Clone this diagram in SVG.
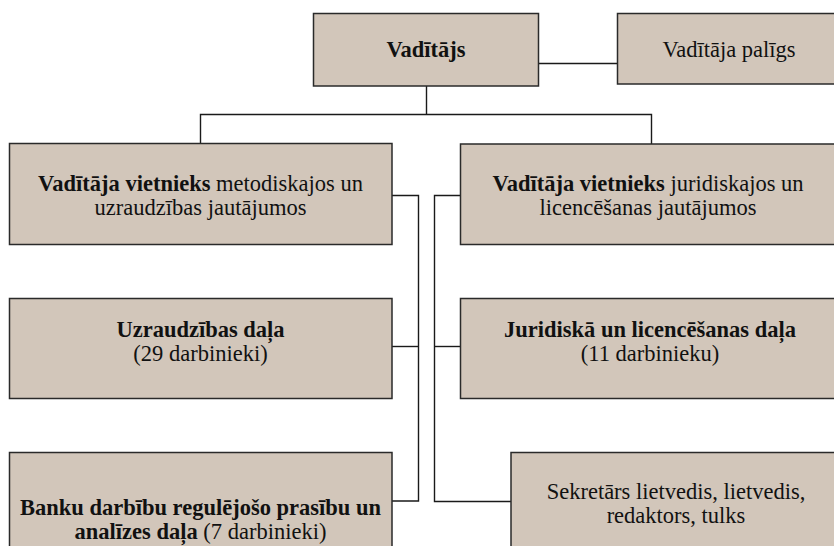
<svg xmlns="http://www.w3.org/2000/svg" width="834" height="546" viewBox="0 0 834 546">
<style>
.box{fill:#d2c6ba;stroke:#2a2a2a;stroke-width:1.5}
.t{font-family:"Liberation Serif","Times New Roman",serif;font-size:22.5px;fill:#111;text-anchor:middle}
.b{font-weight:bold}
.c{fill:none;stroke:#1a1a1a;stroke-width:1.4}
</style>
<rect width="834" height="546" fill="#fff"/>
<g id="connectors">
<path class="c" d="M538.5,63.5H617.5"/>
<path class="c" d="M426.5,86V114.5"/>
<path class="c" d="M200.5,143.5V114.5H651.5V144"/>
<path class="c" d="M392,195.5H418.5V501H392"/>
<path class="c" d="M392,346.5H418.5"/>
<path class="c" d="M460,195.5H434.5V501.5H511"/>
<path class="c" d="M434.5,346.5H460"/>
</g>
<g id="vaditajs">
<rect class="box" x="313.5" y="13.5" width="225" height="72.5"/>
<text class="t b" x="426" y="57">Vadītājs</text>
</g>
<g id="paligs">
<rect class="box" x="617.5" y="13.5" width="225" height="70.5"/>
<text class="t" x="729" y="57">Vadītāja palīgs</text>
</g>
<g id="vietnieks-met">
<rect class="box" x="9.5" y="143.5" width="382.5" height="101"/>
<text class="t" x="200.5" y="190.5"><tspan class="b">Vadītāja vietnieks</tspan> metodiskajos un</text>
<text class="t" x="200.5" y="214.5">uzraudzības jautājumos</text>
</g>
<g id="vietnieks-jur">
<rect class="box" x="460.5" y="144" width="382" height="100.5"/>
<text class="t" x="648" y="190.5"><tspan class="b">Vadītāja vietnieks</tspan> juridiskajos un</text>
<text class="t" x="648" y="214.5">licencēšanas jautājumos</text>
</g>
<g id="uzraudzibas">
<rect class="box" x="9.5" y="298.5" width="382.5" height="100"/>
<text class="t b" x="200.5" y="336.5">Uzraudzības daļa</text>
<text class="t" x="200.5" y="360.5">(29 darbinieki)</text>
</g>
<g id="juridiska">
<rect class="box" x="460.5" y="298.5" width="382" height="100"/>
<text class="t b" x="650" y="336.5">Juridiskā un licencēšanas daļa</text>
<text class="t" x="650" y="360.5">(11 darbinieku)</text>
</g>
<g id="banku">
<rect class="box" x="9.5" y="452.5" width="382.5" height="110"/>
<text class="t b" x="200.5" y="515">Banku darbību regulējošo prasību un</text>
<text class="t" x="200.5" y="538.5"><tspan class="b">analīzes daļa</tspan> (7 darbinieki)</text>
</g>
<g id="sekretars">
<rect class="box" x="511" y="452.5" width="331" height="110"/>
<text class="t" x="676" y="499">Sekretārs lietvedis, lietvedis,</text>
<text class="t" x="676" y="522.5">redaktors, tulks</text>
</g>
</svg>
